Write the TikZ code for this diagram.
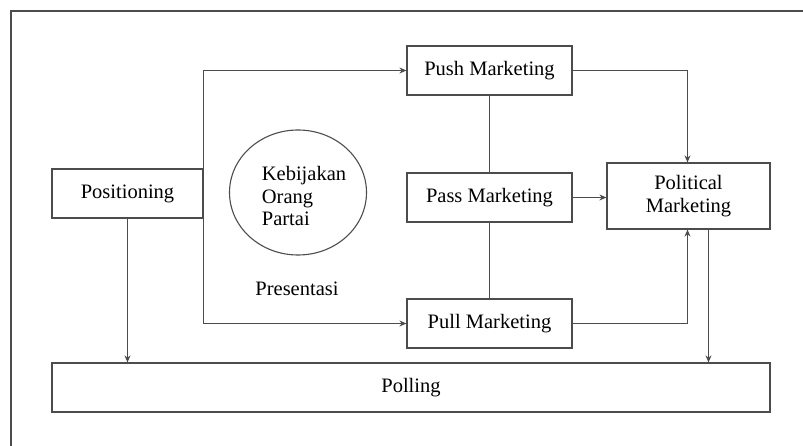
\documentclass[tikz,border=0pt]{standalone}
\usepackage{fontspec}
\setmainfont{Liberation Serif}
\usetikzlibrary{arrows.meta}

\tikzset{
    box/.style={draw=black!70, line width=1.2pt, minimum height=49pt, inner sep=0pt},
    line/.style={draw=black!70, line width=1.1pt},
    arr/.style={line, -{Stealth[length=7pt, width=6pt]}}
}

\begin{document}
\begin{tikzpicture}[x=1pt, y=-1pt, font=\fontsize{20.5}{22.5}\selectfont]
    \useasboundingbox (0, 0) rectangle (803, 446);
    \draw[line] (803, 11) -- (11, 11) -- (11, 446);

    \node[box, minimum width=151pt] (Positioning) at(127.5, 193.5) {Positioning};
    \node[box, minimum width=165pt] (Push) at(489.5, 70.5) {Push Marketing};
    \node[box, minimum width=165pt] (Pass) at(489.5, 197.5) {Pass Marketing};
    \node[box, minimum width=165pt] (Pull) at(489.5, 323.5) {Pull Marketing};
    \node[box, minimum width=163pt, minimum height=66pt, align=center] (Political) at(688.5, 196) {Political\\Marketing};
    \node[box, minimum width=718pt] (Polling) at(411, 387.5) {Polling};

    \draw[line] (298, 192.5) ellipse (68.5pt and 62.5pt);
    \node[align=left] (Kebijakan) at(304, 196) {Kebijakan\\Orang\\Partai};
    \node[] (Presentasi) at(297, 289) {Presentasi};

    \draw[arr] (Positioning.east) -- (Positioning.east |- Push.west) -- (Push.west);
    \draw[arr] (Positioning.east) -- (Positioning.east |- Pull.west) -- (Pull.west);
    \draw[arr] (Positioning.south) -- (Positioning.south |- Polling.north);

    \draw[line] (Push.south) -- (Pass.north);
    \draw[line] (Pass.south) -- (Pull.north);

    \draw[arr] (Push.east) -| ([xshift=-1pt]Political.north);
    \draw[arr] (Pass.east) -- (Pass.east -| Political.west);
    \draw[arr] (Pull.east) -| ([xshift=-1pt]Political.south);
    \draw[arr] ([xshift=20pt]Political.south) -- ([xshift=20pt]Political.south |- Polling.north);
\end{tikzpicture}
\end{document}
